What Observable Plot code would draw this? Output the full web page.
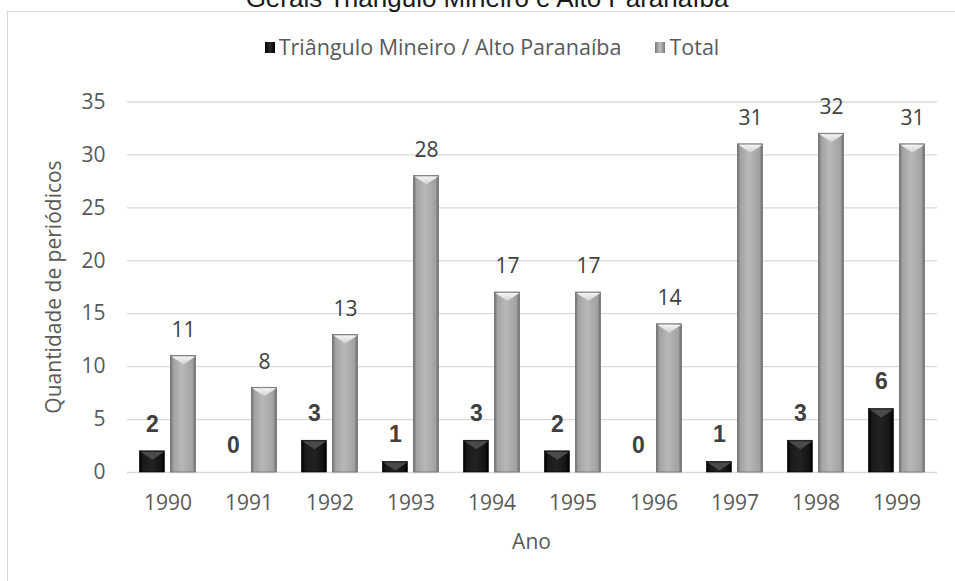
<!DOCTYPE html>
<html>
<head>
<meta charset="utf-8">
<script src="https://cdn.jsdelivr.net/npm/d3@7"></script>
<script src="https://cdn.jsdelivr.net/npm/@observablehq/plot@0.6"></script>
<style>
  html, body { margin: 0; padding: 0; background: #fff; }
  body { width: 955px; height: 581px; overflow: hidden; position: relative; font-family: "Open Sans", sans-serif; }
  #title { position: absolute; left: 0; top: -17px; width: 974px; text-align: center; font-family: "Liberation Sans", Arial, sans-serif; font-size: 26px; line-height: 30px; color: #1a1a1a; white-space: nowrap; }
  #frame { position: absolute; left: 7px; top: 11px; width: 1000px; height: 700px; border: 1px solid #d9d9d9; box-sizing: border-box; }
  #legend { position: absolute; left: 0; top: 33px; width: 984px; display: flex; justify-content: center; align-items: center; font-size: 21.5px; color: #595959; line-height: 28px; }
  #legend .item { display: flex; align-items: center; }
  #legend .sw { width: 10px; height: 11px; margin-right: 4px; }
  #legend .item + .item { margin-left: 34px; }
  #chart { position: absolute; left: 0; top: 0; }
  #ytitle { position: absolute; left: 53px; top: 287px; transform: translate(-50%, -50%) rotate(-90deg); font-size: 21px; color: #595959; white-space: nowrap; }
  #xtitle { position: absolute; left: 531.5px; top: 541px; transform: translate(-50%, -50%); font-size: 21px; color: #595959; white-space: nowrap; }
</style>
</head>
<body>
<div id="frame"></div>
<div id="title">Gerais Triângulo Mineiro e Alto Paranaíba</div>
<div id="chart"></div>
<div id="legend"></div>
<div id="ytitle">Quantidade de periódicos</div>
<div id="xtitle">Ano</div>
<script>
const years = ["1990","1991","1992","1993","1994","1995","1996","1997","1998","1999"];
const seriesNames = ["Triângulo Mineiro / Alto Paranaíba", "Total"];
const trianguloValues = [2, 0, 3, 1, 3, 2, 0, 1, 3, 6];
const totalValues = [11, 8, 13, 28, 17, 17, 14, 31, 32, 31];
const yTicks = [0, 5, 10, 15, 20, 25, 30, 35];

const rows = [];
years.forEach((y, i) => {
  rows.push({year: y, series: seriesNames[0], value: trianguloValues[i]});
  rows.push({year: y, series: seriesNames[1], value: totalValues[i]});
});
const triRows = rows.filter(d => d.series === seriesNames[0]);
const totRows = rows.filter(d => d.series === seriesNames[1]);

// legend
const legend = document.getElementById("legend");
const swatchFills = [
  "linear-gradient(to right, #000 0%, #2a2a2a 50%, #000 100%)",
  "linear-gradient(to right, #7a7a7a 0%, #c0c0c0 50%, #7a7a7a 100%)"
];
seriesNames.forEach((s, i) => {
  const item = document.createElement("div");
  item.className = "item";
  const sw = document.createElement("span");
  sw.className = "sw";
  sw.style.background = swatchFills[i];
  const t = document.createElement("span");
  t.textContent = s;
  item.appendChild(sw); item.appendChild(t);
  legend.appendChild(item);
});

// bevel highlight symbol at the top of each bar (style only)
const bevel = { draw(context) { context.moveTo(-12, 0); context.lineTo(12, 0); context.lineTo(0, 8); context.closePath(); } };

const chart = Plot.plot({
  width: 955,
  height: 581,
  marginTop: 101.5,
  marginBottom: 109,
  marginLeft: 124.6,
  marginRight: 16.4,
  style: { fontFamily: "'Open Sans', sans-serif", fontSize: "21px", color: "#595959", background: "transparent", overflow: "visible" },
  fx: { domain: years, padding: 0, label: null },
  x: { domain: seriesNames, paddingInner: 0.198, paddingOuter: 0.384, axis: null },
  y: { domain: [0, 35], label: null },
  marks: [
    Plot.gridY(yTicks, { stroke: "#d9d9d9", strokeOpacity: 1, strokeWidth: 1.3 }),
    Plot.axisY(yTicks, { tickSize: 0, tickPadding: 22, label: null, fill: "#595959" }),
    Plot.axisFx({ anchor: "bottom", tickSize: 0, tickPadding: 23, label: null, fill: "#595959" }),
    Plot.barY(triRows, { fx: "year", x: "series", y: "value", fill: "url(#gradBlack)", stroke: "#000", strokeWidth: 0.6 }),
    Plot.barY(totRows, { fx: "year", x: "series", y: "value", fill: "url(#gradGray)", stroke: "#707070", strokeWidth: 0.8 }),
    Plot.dot(triRows.filter(d => d.value > 0), { fx: "year", x: "series", y: "value", symbol: bevel, r: 1, fill: "#4a4a4a", stroke: "none", dy: 0.5 }),
    Plot.dot(totRows, { fx: "year", x: "series", y: "value", symbol: bevel, r: 1, fill: "url(#gradBevel)", stroke: "none", dy: 0.5 }),
    Plot.text(triRows, { fx: "year", x: "series", y: "value", text: d => String(d.value), dy: -27, fontSize: 23, fontWeight: "bold", fontFamily: "'Liberation Sans', Arial, sans-serif", fill: "#404040" }),
    Plot.text(totRows, { fx: "year", x: "series", y: "value", text: d => String(d.value), dy: -26, fontSize: 21, fill: "#404040" })
  ]
});

// gradient definitions for the bevelled bar look
const svg = d3.select(chart);
const defs = svg.insert("defs", ":first-child");
const gGray = defs.append("linearGradient").attr("id", "gradGray").attr("x1", "0").attr("x2", "1").attr("y1", "0").attr("y2", "0");
[["0%", "#6c6c6c"], ["12%", "#a2a2a2"], ["45%", "#b8b8b8"], ["88%", "#a2a2a2"], ["100%", "#6a6a6a"]].forEach(([o, c]) => gGray.append("stop").attr("offset", o).attr("stop-color", c));
const gBlack = defs.append("linearGradient").attr("id", "gradBlack").attr("x1", "0").attr("x2", "1").attr("y1", "0").attr("y2", "0");
[["0%", "#000"], ["15%", "#1a1a1a"], ["50%", "#222"], ["85%", "#141414"], ["100%", "#000"]].forEach(([o, c]) => gBlack.append("stop").attr("offset", o).attr("stop-color", c));
const gBevel = defs.append("linearGradient").attr("id", "gradBevel").attr("x1", "0").attr("x2", "0").attr("y1", "0").attr("y2", "1");
[["0%", "#f4f4f4"], ["100%", "#d0d0d0"]].forEach(([o, c]) => gBevel.append("stop").attr("offset", o).attr("stop-color", c));

document.getElementById("chart").appendChild(chart);
</script>
</body>
</html>
